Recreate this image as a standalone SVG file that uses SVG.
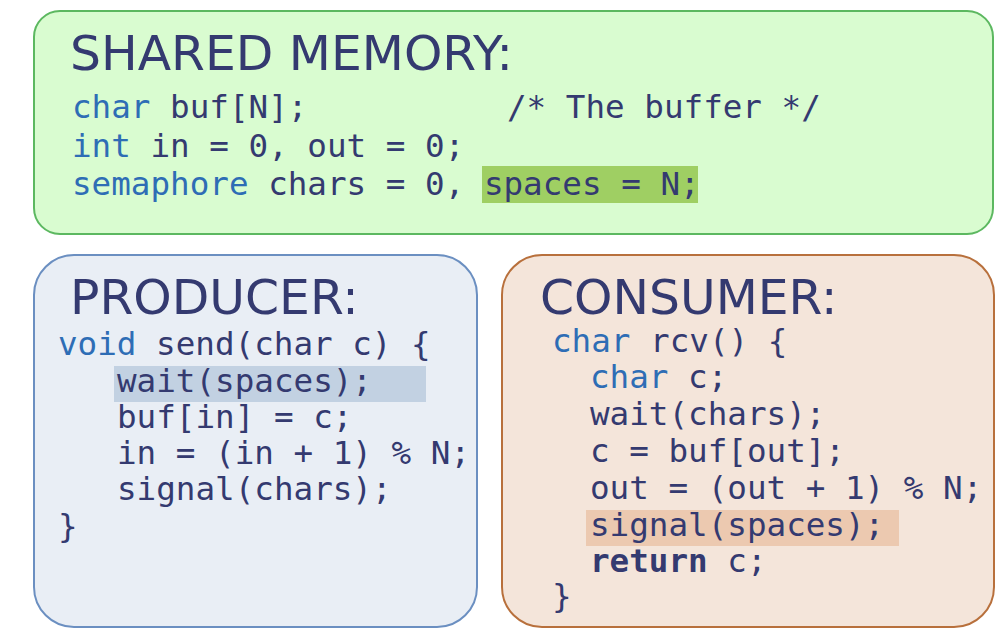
<svg xmlns="http://www.w3.org/2000/svg" width="1006" height="632" viewBox="0 0 1006 632">
<style>
.title{font-family:"DejaVu Sans",Verdana,sans-serif;font-size:48.8px;fill:#343a70}
.code{font-family:"DejaVu Sans Mono","Liberation Mono",monospace;font-size:32.6px;fill:#343a70;white-space:pre}
.kw{fill:#2e6db5}
.b{font-weight:bold}
</style>
<rect width="1006" height="632" fill="#ffffff"/>
<g id="shared-memory">
<rect x="34" y="11" width="959" height="223" rx="26" fill="#d9fcd0" stroke="#5cb860" stroke-width="2"/>
<rect x="482" y="166" width="216" height="37" fill="#9fcf63"/>
<text class="title" x="70" y="70">SHARED MEMORY:</text>
<text class="code" x="72" y="118" xml:space="preserve"><tspan class="kw">char</tspan> buf[N];</text>
<text class="code" x="507" y="118" xml:space="preserve">/* The buffer */</text>
<text class="code" x="72" y="157" xml:space="preserve"><tspan class="kw">int</tspan> in = 0, out = 0;</text>
<text class="code" x="72" y="195" xml:space="preserve"><tspan class="kw">semaphore</tspan> chars = 0, spaces = N;</text>
</g>
<g id="producer">
<rect x="34" y="255" width="443" height="372" rx="40" fill="#e9eef5" stroke="#6b8fc1" stroke-width="2"/>
<rect x="114" y="366" width="312" height="36" fill="#c2d1e2"/>
<text class="title" x="70" y="314">PRODUCER:</text>
<text class="code" x="58" y="355" xml:space="preserve"><tspan class="kw">void</tspan> send(char c) {</text>
<text class="code" x="117" y="392" xml:space="preserve">wait(spaces);</text>
<text class="code" x="117" y="428" xml:space="preserve">buf[in] = c;</text>
<text class="code" x="117" y="464" xml:space="preserve">in = (in + 1) % N;</text>
<text class="code" x="117" y="500" xml:space="preserve">signal(chars);</text>
<text class="code" x="58" y="537" xml:space="preserve">}</text>
</g>
<g id="consumer">
<rect x="502" y="255" width="492" height="372" rx="40" fill="#f4e5da" stroke="#b8703c" stroke-width="2"/>
<rect x="586" y="510" width="313" height="36" fill="#ecc9b0"/>
<text class="title" x="540" y="314">CONSUMER:</text>
<text class="code" x="552" y="352" xml:space="preserve"><tspan class="kw">char</tspan> rcv() {</text>
<text class="code" x="590" y="388" xml:space="preserve"><tspan class="kw">char</tspan> c;</text>
<text class="code" x="590" y="425" xml:space="preserve">wait(chars);</text>
<text class="code" x="590" y="462" xml:space="preserve">c = buf[out];</text>
<text class="code" x="590" y="499" xml:space="preserve">out = (out + 1) % N;</text>
<text class="code" x="590" y="536" xml:space="preserve">signal(spaces);</text>
<text class="code" x="590" y="572" xml:space="preserve"><tspan class="b">return</tspan> c;</text>
<text class="code" x="552" y="607" xml:space="preserve">}</text>
</g>
</svg>
